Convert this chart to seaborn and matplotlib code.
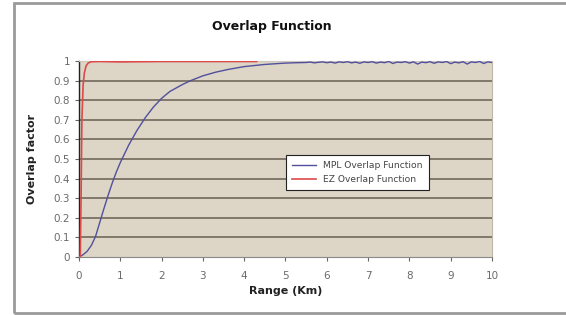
import numpy as np
import pandas as pd
import matplotlib
matplotlib.use("Agg")
import matplotlib.pyplot as plt
from matplotlib.patches import Rectangle
import seaborn as sns

# MPL overlap function
mpl_range = [0.0, 0.1, 0.2, 0.3, 0.4, 0.5, 0.6, 0.7, 0.8, 0.9, 1.0, 1.2, 1.4, 1.6, 1.8,
             2.0, 2.2, 2.5, 2.7, 3.0, 3.3, 3.6, 4.0, 4.5, 5.0, 5.3, 5.5, 5.6, 5.7, 5.8,
             5.9, 6.0, 6.1, 6.2, 6.3, 6.4, 6.5, 6.6, 6.7, 6.8, 6.9, 7.0, 7.1, 7.2, 7.3,
             7.4, 7.5, 7.6, 7.7, 7.8, 7.9, 8.0, 8.1, 8.2, 8.3, 8.4, 8.5, 8.6, 8.7, 8.8,
             8.9, 9.0, 9.1, 9.2, 9.3, 9.4, 9.5, 9.6, 9.7, 9.8, 9.9, 10.0]
mpl_overlap = [0.0, 0.012, 0.03, 0.06, 0.105, 0.175, 0.245, 0.312, 0.375, 0.432, 0.482,
               0.57, 0.645, 0.71, 0.765, 0.81, 0.845, 0.88, 0.90, 0.925, 0.943, 0.957,
               0.972, 0.983, 0.99, 0.992, 0.993, 0.995, 0.991, 0.994, 0.996, 0.992, 0.995,
               0.990, 0.996, 0.993, 0.997, 0.991, 0.995, 0.989, 0.996, 0.993, 0.997, 0.990,
               0.995, 0.992, 0.998, 0.988, 0.995, 0.993, 0.997, 0.990, 0.996, 0.985, 0.995,
               0.992, 0.997, 0.989, 0.996, 0.993, 0.998, 0.987, 0.995, 0.991, 0.997, 0.985,
               0.996, 0.993, 0.998, 0.988, 0.996, 0.993]

# EZ overlap function
ez_range = [0.0, 0.03, 0.05, 0.07, 0.1, 0.13, 0.17, 0.22, 0.3, 0.5, 1.0, 2.0, 3.0, 4.0, 4.3]
ez_overlap = [0.0, 0.0, 0.3, 0.7, 0.88, 0.94, 0.975, 0.99, 0.997, 0.998, 0.996, 0.998,
              0.998, 0.998, 0.998]

df_mpl = pd.DataFrame({"range": mpl_range, "overlap": mpl_overlap})
df_ez = pd.DataFrame({"range": ez_range, "overlap": ez_overlap})

fig = plt.figure(figsize=(5.66, 3.15), dpi=100)
ax = fig.add_axes([0.1396, 0.184, 0.7296, 0.622])
ax.set_facecolor("#ddd5c5")

for yy in np.arange(0.1, 1.0, 0.1):
    ax.axhline(yy, color="#71685c", lw=1.2, zorder=1)

sns.lineplot(data=df_mpl, x="range", y="overlap", ax=ax, color="#50509e", lw=1.0,
             label="MPL Overlap Function", zorder=3)
sns.lineplot(data=df_ez, x="range", y="overlap", ax=ax, color="#dd4a4a", lw=1.2,
             label="EZ Overlap Function", zorder=4)

ax.set_xlim(0, 10)
ax.set_ylim(0, 1)
ax.set_xticks(range(0, 11))
ax.set_yticks(np.round(np.arange(0, 1.01, 0.1), 1))
ax.set_yticklabels(["0", "0.1", "0.2", "0.3", "0.4", "0.5", "0.6", "0.7", "0.8", "0.9", "1"])
ax.tick_params(axis="both", labelsize=7.5, labelcolor="#6a6a6a", color="#666666",
               length=3, width=0.8)
ax.tick_params(axis="x", pad=7)

ax.spines["left"].set_color("#222222")
ax.spines["left"].set_linewidth(1.0)
ax.spines["bottom"].set_color("#8a8a8a")
ax.spines["top"].set_color("#cfc8bb")
ax.spines["right"].set_color("#bdb6aa")

ax.set_xlabel("Range (Km)", fontsize=8, fontweight="bold", color="#222222", labelpad=4)
ax.set_ylabel("Overlap factor", fontsize=8, fontweight="bold", color="#222222", labelpad=12)
fig.text(0.48, 0.915, "Overlap Function", ha="center", va="center", fontsize=9,
         fontweight="bold", color="#111111")

leg = ax.legend(loc="lower left", bbox_to_anchor=(0.49, 0.32), fontsize=6.6, frameon=True,
                fancybox=False, edgecolor="#222222", framealpha=1, handlelength=2.6,
                borderpad=0.65, labelspacing=0.55)
leg.get_frame().set_linewidth(0.8)
for t in leg.get_texts():
    t.set_color("#444444")

fig.patches.append(Rectangle((0.024, 0.006), 1.0, 0.985, transform=fig.transFigure,
                             fill=False, edgecolor="#9a9a9a", lw=2.0))

fig.savefig("out.png", dpi=100)
